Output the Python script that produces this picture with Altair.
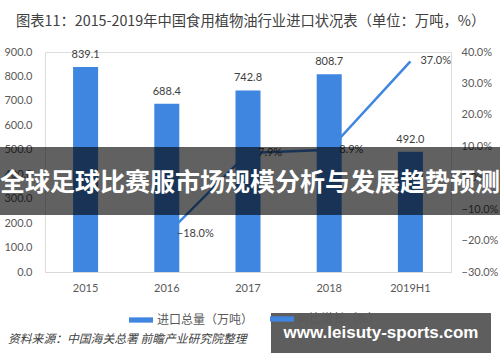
import altair as alt
import pandas as pd

years = ["2015", "2016", "2017", "2018", "2019H1"]
imports = [839.1, 688.4, 742.8, 808.7, 492.0]
growth = [None, -18.0, 7.9, 8.9, 37.0]
bar_name = "进口总量（万吨）"
line_name = "同比增长（%）"
title_text = "图表11：2015-2019年中国食用植物油行业进口状况表（单位：万吨，%）"
source_text = "资料来源：中国海关总署 前瞻产业研究院整理"
banner_text = "全球足球比赛服市场规模分析与发展趋势预测"
site_text = "www.leisuty-sports.com"

df = pd.DataFrame({"year": years, "imports": imports, "growth": growth})
df["bs"] = bar_name
df["ls"] = line_name
gdf = df.dropna(subset=["growth"])

BLUE = "#3f86e0"
TXT = "#404040"
LAB = "#595959"
NUM_FONT = "Lato"
CJK = "Noto Sans CJK SC"

x_axis = alt.Axis(labelAngle=0, ticks=False, domainColor="#d9d9d9",
                  labelColor=LAB, labelFontSize=11, labelFont=NUM_FONT,
                  labelPadding=10, grid=False)
x_scale = alt.Scale(paddingInner=0, paddingOuter=0)

left_axis = alt.Axis(values=list(range(0, 901, 100)), format=".1f",
                     domain=False, ticks=False, grid=False, labelOverlap=False,
                     labelColor=LAB, labelFontSize=11, labelFont=NUM_FONT,
                     labelPadding=13)
left_scale = alt.Scale(domain=[0, 900], nice=False)

right_axis = alt.Axis(orient="right", values=list(range(-30, 41, 10)),
                      labelExpr="format(datum.value, '.1f') + '%'",
                      domain=False, ticks=False, grid=False, labelOverlap=False,
                      labelColor=LAB, labelFontSize=11, labelFont=NUM_FONT,
                      labelPadding=10)
right_scale = alt.Scale(domain=[-30, 40], nice=False)

def xe():
    return alt.X("year:N", sort=years, title=None, scale=x_scale, axis=x_axis)

def yl():
    return alt.Y("imports:Q", title=None, scale=left_scale, axis=left_axis)

def yr():
    return alt.Y("growth:Q", title=None, scale=right_scale, axis=right_axis)

bars = alt.Chart(df).mark_bar(size=25).encode(
    x=xe(),
    y=yl(),
    color=alt.Color("bs:N", scale=alt.Scale(domain=[bar_name], range=[BLUE]),
                    legend=alt.Legend(orient="none", legendX=83, legendY=255, title=None,
                                      symbolType="M-1,-0.22H1V0.22H-1Z", symbolSize=576,
                                      labelFont=CJK, labelFontSize=12, labelColor=LAB,
                                      labelOffset=3)),
)

bar_labels = alt.Chart(df).mark_text(dy=-7, baseline="bottom", fontSize=11,
                                     font=NUM_FONT, color=TXT).encode(
    x=xe(),
    y=yl(),
    text=alt.Text("imports:Q", format=".1f"),
)

left = alt.layer(bars, bar_labels)

line = alt.Chart(gdf).mark_line(strokeWidth=2.5).encode(
    x=xe(),
    y=yr(),
    stroke=alt.Stroke("ls:N", scale=alt.Scale(domain=[line_name], range=[BLUE]),
                      legend=alt.Legend(orient="none", legendX=225, legendY=255, title=None,
                                        symbolType="M-1,-0.22H1V0.22H-1Z", symbolSize=576,
                                        symbolFillColor=BLUE, symbolStrokeWidth=0,
                                        labelFont=CJK, labelFontSize=12, labelColor=LAB,
                                        labelOffset=3)),
)

line_labels = alt.Chart(gdf).transform_calculate(
    lbl="format(datum.growth, '.1f') + '%'"
).mark_text(dx=10, align="left", baseline="middle",
            fontSize=11, font=NUM_FONT, color=TXT).encode(
    x=xe(),
    y=yr(),
    text="lbl:N",
)

right = alt.layer(line, line_labels)

title = alt.Chart(pd.DataFrame({"t": [title_text]})).mark_text(
    align="left", baseline="middle", fontSize=14.3, font=CJK,
    color=TXT).encode(x=alt.value(-29), y=alt.value(-30), text="t:N")

source = alt.Chart(pd.DataFrame({"t": [source_text]})).mark_text(
    align="left", baseline="middle", fontSize=11.8, font=CJK, fontStyle="italic",
    color=TXT).encode(x=alt.value(-37), y=alt.value(287), text="t:N")

band = alt.Chart(pd.DataFrame({"t": [banner_text]})).mark_rect(
    color="black", opacity=0.62).encode(
    x=alt.value(-45), x2=alt.value(455), y=alt.value(95), y2=alt.value(163))

band_text = alt.Chart(pd.DataFrame({"t": [banner_text]})).mark_text(
    align="center", baseline="middle", fontSize=25, font=CJK, fontWeight="bold",
    color="white").encode(x=alt.value(205), y=alt.value(131), text="t:N")

site = alt.Chart(pd.DataFrame({"t": [site_text]})).mark_rect(
    color="#555555", opacity=0.95).encode(
    x=alt.value(226), x2=alt.value(446), y=alt.value(261), y2=alt.value(301))

site_text_mark = alt.Chart(pd.DataFrame({"t": [site_text]})).mark_text(
    align="center", baseline="middle", fontSize=17, font="Liberation Sans",
    fontWeight="bold", color="white").encode(x=alt.value(336), y=alt.value(281), text="t:N")

chart = alt.layer(
    left, right, title, source, band, band_text, site, site_text_mark
).resolve_scale(y="independent", color="independent", stroke="independent").properties(
    width=406, height=220,
    autosize=alt.AutoSizeParams(type="none"),
    padding={"left": 45, "top": 52, "right": 49, "bottom": 90},
).configure_view(stroke=None).configure_axis(labelOverlap=False).configure(background="white")

chart.save("out.html", embed_options={"renderer": "svg", "actions": False})
